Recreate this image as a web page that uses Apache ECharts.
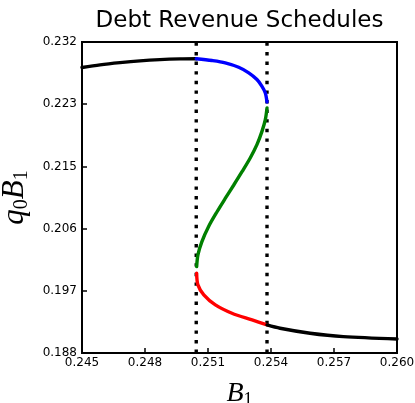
<!DOCTYPE html>
<html>
<head>
<meta charset="utf-8">
<script src="https://cdn.jsdelivr.net/npm/echarts@6/dist/echarts.min.js"></script>
<style>
  html, body { margin: 0; padding: 0; background: #fff; }
  #chart { width: 415px; height: 403px; }
</style>
</head>
<body>
<div id="chart"></div>
<script>
// Debt revenue q0*B1 as a function of B1: stable (black), upper fold (blue),
// middle unstable branch (green), lower fold (red).
var leftBranchB  = [0.24500, 0.24586, 0.24681, 0.24776, 0.24871, 0.24967, 0.25044];
var leftBranchQ  = [0.22846, 0.22884, 0.22915, 0.22940, 0.22957, 0.22967, 0.22970];

var upperFoldB   = [0.25044, 0.25119, 0.25182, 0.25246, 0.25294, 0.25333, 0.25357, 0.25373, 0.25381];
var upperFoldQ   = [0.22970, 0.22944, 0.22912, 0.22850, 0.22771, 0.22677, 0.22582, 0.22489, 0.22360];

var middleB      = [0.25381, 0.25373, 0.25357, 0.25333, 0.25301, 0.25262, 0.25222, 0.25182, 0.25143, 0.25103, 0.25071, 0.25052, 0.25046];
var middleQ      = [0.22278, 0.22113, 0.21948, 0.21761, 0.21573, 0.21380, 0.21190, 0.21004, 0.20817, 0.20610, 0.20398, 0.20211, 0.20046];

var lowerFoldB   = [0.25046, 0.25052, 0.25080, 0.25135, 0.25214, 0.25310, 0.25381];
var lowerFoldQ   = [0.19953, 0.19788, 0.19647, 0.19506, 0.19389, 0.19295, 0.19225];

var rightBranchB = [0.25381, 0.25443, 0.25586, 0.25744, 0.26000];
var rightBranchQ = [0.19225, 0.19178, 0.19108, 0.19060, 0.19027];

// B1 thresholds where the schedule folds
var foldThresholds = [0.25044, 0.25381];

// Axis ticks
var xTickLabels = ['0.245', '0.248', '0.251', '0.254', '0.257', '0.260'];
var yTickLabels = ['0.188', '0.197', '0.206', '0.215', '0.223', '0.232'];

var xMin = 0.245, xMax = 0.260, xStep = 0.003;
var yMin = 0.1883, yStep = 0.00875, yMax = 0.23205;

function pairs(xs, ys) {
  return xs.map(function (x, i) { return [x, ys[i]]; });
}

function branch(name, xs, ys, color) {
  return {
    name: name,
    type: 'line',
    data: pairs(xs, ys),
    smooth: 0.3,
    showSymbol: false,
    symbol: 'none',
    lineStyle: { color: color, width: 3.4, cap: 'round' },
    z: 3,
    silent: true
  };
}

var series = [
  branch('left', leftBranchB, leftBranchQ, '#000000'),
  branch('upper', upperFoldB, upperFoldQ, '#0000ff'),
  branch('middle', middleB, middleQ, '#008000'),
  branch('lower', lowerFoldB, lowerFoldQ, '#ff0000'),
  branch('right', rightBranchB, rightBranchQ, '#000000')
];

foldThresholds.forEach(function (b, i) {
  series.push({
    name: 'threshold' + i,
    type: 'line',
    data: [[b, yMin], [b, yMax]],
    showSymbol: false,
    symbol: 'none',
    lineStyle: { color: '#000000', width: 3.4, type: [3.4, 6.2] },
    z: 2,
    silent: true
  });
});

function mathRich(size, subSize, subDrop) {
  return {
    i: { fontFamily: 'Liberation Serif', fontStyle: 'italic', fontSize: size, color: '#000' },
    s: { fontFamily: 'Liberation Serif', fontSize: subSize, color: '#000', padding: [subDrop, 0, 0, 0] }
  };
}

var chart = echarts.init(document.getElementById('chart'), null, { renderer: 'canvas' });
chart.setOption({
  animation: false,
  backgroundColor: '#ffffff',
  grid: {
    left: 82, top: 42, width: 315, height: 311,
    containLabel: false,
    outerBoundsMode: 'none',
    show: true, borderColor: '#000', borderWidth: 2, backgroundColor: 'transparent'
  },
  graphic: [{
    type: 'text',
    x: 239.5, y: 21,
    style: {
      text: 'Debt Revenue Schedules',
      fontFamily: 'DejaVu Sans', fontSize: 23, fill: '#000',
      textAlign: 'center', textVerticalAlign: 'middle'
    }
  }],
  xAxis: {
    type: 'value',
    min: xMin, max: xMax, interval: xStep,
    splitLine: { show: false },
    axisLine: { show: true, onZero: false, lineStyle: { color: '#000', width: 2 } },
    axisTick: { show: true, inside: true, length: 5, lineStyle: { color: '#000', width: 1.5 } },
    axisLabel: {
      margin: 4, color: '#000', fontFamily: 'DejaVu Sans', fontSize: 12,
      showMinLabel: true, showMaxLabel: true,
      formatter: function (v) { return xTickLabels[Math.round((v - xMin) / xStep)]; }
    },
    name: '{i|B}{s|1}',
    nameLocation: 'middle',
    nameGap: 26,
    nameTextStyle: { rich: mathRich(28, 18, 12) }
  },
  yAxis: {
    type: 'value',
    min: yMin, max: yMax, interval: yStep,
    splitLine: { show: false },
    axisLine: { show: true, onZero: false, lineStyle: { color: '#000', width: 2 } },
    axisTick: { show: true, inside: true, length: 5, lineStyle: { color: '#000', width: 1.5 } },
    axisLabel: {
      margin: 5, color: '#000', fontFamily: 'DejaVu Sans', fontSize: 12,
      showMinLabel: true, showMaxLabel: true,
      formatter: function (v) { return yTickLabels[Math.round((v - yMin) / yStep)]; }
    },
    name: '{i|q}{s|0}{i|B}{s|1}',
    nameLocation: 'middle',
    nameRotate: 90,
    nameGap: 47,
    nameTextStyle: { rich: mathRich(31, 20, 13) }
  },
  series: series
});
</script>
</body>
</html>
